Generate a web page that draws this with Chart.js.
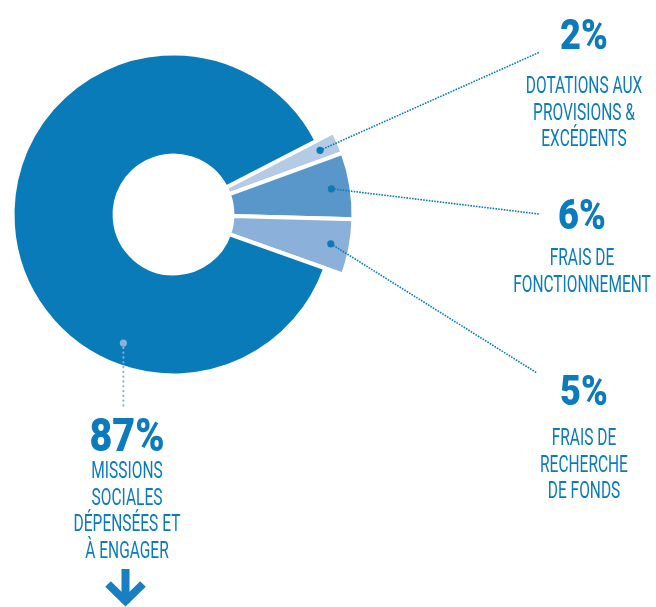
<!DOCTYPE html>
<html>
<head>
<meta charset="utf-8">
<script src="https://cdn.jsdelivr.net/npm/chart.js@4.4.1/dist/chart.umd.min.js"></script>
<style>
  html, body { margin: 0; padding: 0; background: #fff; }
  #wrap { position: relative; width: 656px; height: 607px; overflow: hidden; }
  #chart { position: absolute; left: 0; top: 0; }
  .txt {
    position: absolute;
    white-space: nowrap;
    font-family: Roboto, "Noto Sans", sans-serif;
    color: #0b7bbd;
    line-height: 1;
  }
</style>
</head>
<body>
<div id="wrap">
  <canvas id="chart" width="656" height="607"></canvas>
</div>
<script>
// Budget split (%)
const categories = [
  'DOTATIONS AUX PROVISIONS & EXCÉDENTS',
  'FRAIS DE FONCTIONNEMENT',
  'FRAIS DE RECHERCHE DE FONDS',
  'MISSIONS SOCIALES DÉPENSÉES ET À ENGAGER'
];
const shares = [2, 6, 5, 87];
const percentLabels = ['2%', '6%', '5%', '87%'];
const labelLines = [
  ['DOTATIONS AUX', 'PROVISIONS &', 'EXCÉDENTS'],
  ['FRAIS DE', 'FONCTIONNEMENT'],
  ['FRAIS DE', 'RECHERCHE', 'DE FONDS'],
  ['MISSIONS', 'SOCIALES', 'DÉPENSÉES ET', 'À ENGAGER']
];
const sliceColors = ['#b4cae5', '#5997ca', '#8bb0d9', '#0a7bb9'];

// layout of the text blocks: centre x, baseline of the % line, first label baseline
const blocks = [
  { cx: 584, pctBase: 49, lblBase: 94, pctSize: 43 },
  { cx: 582, pctBase: 229, lblBase: 266, pctSize: 43 },
  { cx: 584, pctBase: 405, lblBase: 446, pctSize: 43 },
  { cx: 127, pctBase: 451, lblBase: 479, pctSize: 47 }
];
// where each leader line ends (next to the text)
const leaderEnds = [[540, 52], [539, 214], [537, 373], [null, 406]];

const wrap = document.getElementById('wrap');
function addText(str, cx, baseline, size, weight, sx) {
  const d = document.createElement('div');
  d.className = 'txt';
  d.textContent = str;
  d.style.fontSize = size + 'px';
  d.style.fontWeight = weight;
  d.style.left = cx + 'px';
  d.style.top = (baseline - 0.842 * size) + 'px';
  d.style.transform = 'translateX(-50%) scaleX(' + sx + ')';
  wrap.appendChild(d);
}
blocks.forEach((b, i) => {
  addText(percentLabels[i], b.cx, b.pctBase, b.pctSize, 900, 0.84);
  labelLines[i].forEach((line, j) => {
    addText(line, b.cx, b.lblBase + j * 26.5, 23.5, 400, 0.66);
  });
});

const bigOuter = 180;

const explodePlugin = {
  id: 'explode',
  afterDatasetsUpdate(chart) {
    const meta = chart.getDatasetMeta(0);
    meta.data.forEach((arc, i) => {
      if (i < 3) arc.outerRadius = bigOuter;
    });
  },
  afterDraw(chart) {
    const ctx = chart.ctx;
    const meta = chart.getDatasetMeta(0);
    meta.data.forEach((arc, i) => {
      let ang, r;
      if (i < 3) {
        ang = (arc.startAngle + arc.endAngle) / 2;
        r = 160;
      } else {
        ang = 111.3 * Math.PI / 180;
        r = 138;
      }
      const px = arc.x + Math.cos(ang) * r;
      const py = arc.y + Math.sin(ang) * r;
      const end = leaderEnds[i];
      const ex = end[0] === null ? px : end[0];
      const ey = end[1];
      const main = i === 3;
      ctx.save();
      ctx.strokeStyle = main ? '#8cb0d8' : '#0a7bb9';
      ctx.lineWidth = main ? 2.2 : 1.6;
      ctx.lineCap = main ? 'round' : 'butt';
      ctx.setLineDash(main ? [0.1, 4.7] : [1.6, 1.2]);
      ctx.beginPath();
      ctx.moveTo(px, py);
      ctx.lineTo(ex, ey);
      ctx.stroke();
      ctx.setLineDash([]);
      ctx.fillStyle = main ? '#8cb0d8' : '#0a7bb9';
      ctx.beginPath();
      ctx.arc(px, py, 3.6, 0, Math.PI * 2);
      ctx.fill();
      ctx.restore();
    });

    // arrow under the main label
    ctx.save();
    ctx.fillStyle = '#1a7fc1';
    ctx.fillRect(121.5, 569, 8, 34);
    ctx.strokeStyle = '#1a7fc1';
    ctx.lineWidth = 8;
    ctx.lineJoin = 'miter';
    ctx.beginPath();
    ctx.moveTo(108, 584);
    ctx.lineTo(125.5, 601);
    ctx.lineTo(143, 584);
    ctx.stroke();
    ctx.restore();
  }
};

new Chart(document.getElementById('chart'), {
  type: 'doughnut',
  data: {
    labels: categories,
    datasets: [{
      data: shares,
      backgroundColor: sliceColors,
      borderColor: '#ffffff',
      borderWidth: 4
    }]
  },
  options: {
    responsive: false,
    animation: false,
    events: [],
    rotation: 62.75,
    radius: 161,
    cutout: '36.6%',
    layout: {
      padding: { left: 0, top: 0, right: 309, bottom: 178 }
    },
    plugins: {
      legend: { display: false },
      tooltip: { enabled: false }
    }
  },
  plugins: [explodePlugin]
});
</script>
</body>
</html>
